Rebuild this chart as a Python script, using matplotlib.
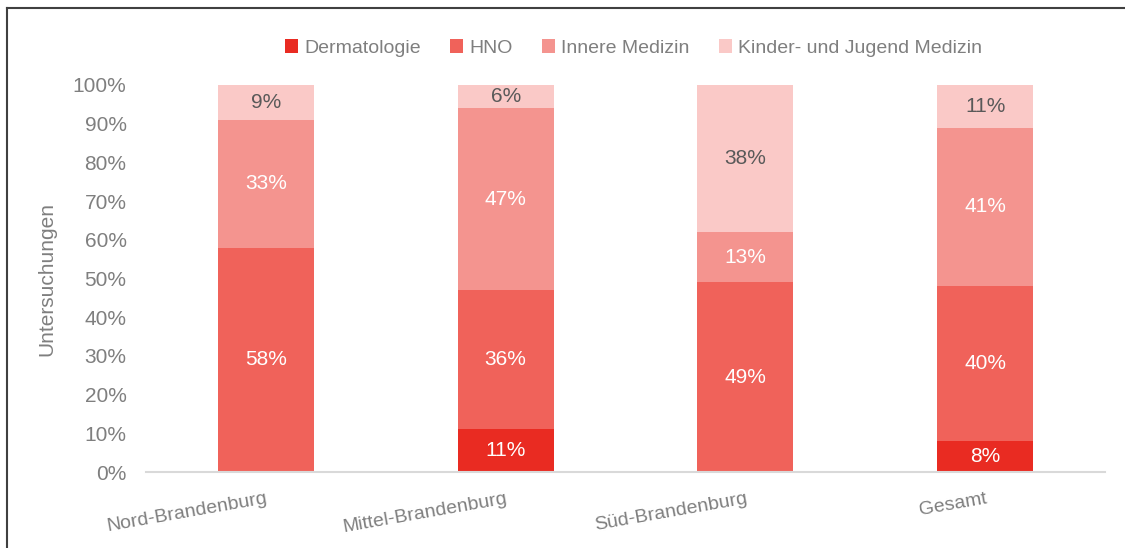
import matplotlib
matplotlib.use('Agg')
import matplotlib.pyplot as plt
from matplotlib import font_manager
from matplotlib.lines import Line2D
import numpy as np

# Daten (Anteile in %)
regions = ['Nord-Brandenburg', 'Mittel-Brandenburg', 'Süd-Brandenburg', 'Gesamt']
series_names = ['Dermatologie', 'HNO', 'Innere Medizin', 'Kinder- und Jugend Medizin']
dermatologie = [0, 11, 0, 8]
hno = [58, 36, 49, 40]
innere = [33, 47, 13, 41]
kinder = [9, 6, 38, 11]
y_ticks = list(range(0, 101, 10))

colors = ['#E92B22', '#F0625A', '#F4948F', '#FAC9C7']
label_colors = ['white', 'white', 'white', '#595959']

# Schrift: schmale Arial-artige Schrift, falls vorhanden
installed = {f.name for f in font_manager.fontManager.ttflist}
families = [f for f in ['Liberation Sans Narrow', 'Liberation Sans', 'DejaVu Sans'] if f in installed]
plt.rcParams['font.family'] = families

grey = '#7F7F7F'
fs = 14

fig = plt.figure(figsize=(11.25, 5.48), dpi=100)
ax = fig.add_axes([146 / 1125, 1 - 472 / 548, (1105 - 146) / 1125, (472 - 85) / 548])

x = np.arange(len(regions))
width = 0.4
bottom = np.zeros(len(regions))
all_series = [dermatologie, hno, innere, kinder]

for vals, name, col, lcol in zip(all_series, series_names, colors, label_colors):
    vals = np.array(vals, dtype=float)
    ax.bar(x, vals, width, bottom=bottom, color=col, label=name, linewidth=0)
    for xi, b, v in zip(x, bottom, vals):
        if v > 0:
            ax.text(xi, b + v / 2, f'{int(v)}%', ha='center', va='center',
                    color=lcol, fontsize=fs + 1)
    bottom += vals

ax.set_xlim(-0.5, len(regions) - 0.5)
ax.set_ylim(0, 100)
ax.set_yticks(y_ticks)
ax.set_yticklabels([f'{t}%' for t in y_ticks])
ax.set_xticks(x)
ax.set_xticklabels(regions, rotation=10, ha='right', rotation_mode='anchor')
ax.tick_params(axis='both', length=0, colors=grey, labelsize=fs + 1)
ax.tick_params(axis='x', pad=13, labelsize=fs)
ax.tick_params(axis='y', pad=14)

for s in ['top', 'right', 'left']:
    ax.spines[s].set_visible(False)
ax.spines['bottom'].set_color('#D9D9D9')
ax.spines['bottom'].set_linewidth(1.5)

ax.set_ylabel('Untersuchungen', color=grey, fontsize=fs + 1, labelpad=12)

fig.legend(loc='center', bbox_to_anchor=(0.563, 1 - 48 / 548), ncol=4, frameon=False,
           fontsize=fs, handlelength=0.7, handleheight=0.7, handletextpad=0.3,
           columnspacing=1.5, labelcolor=grey)

# Rahmen links und oben
fig.add_artist(Line2D([6.5 / 1125, 6.5 / 1125], [0, 1 - 8 / 548], color='#404040', lw=1.5,
                      transform=fig.transFigure))
fig.add_artist(Line2D([6.5 / 1125, 1], [1 - 8 / 548, 1 - 8 / 548], color='#404040', lw=1.5,
                      transform=fig.transFigure))

fig.savefig('out.png', dpi=100)
